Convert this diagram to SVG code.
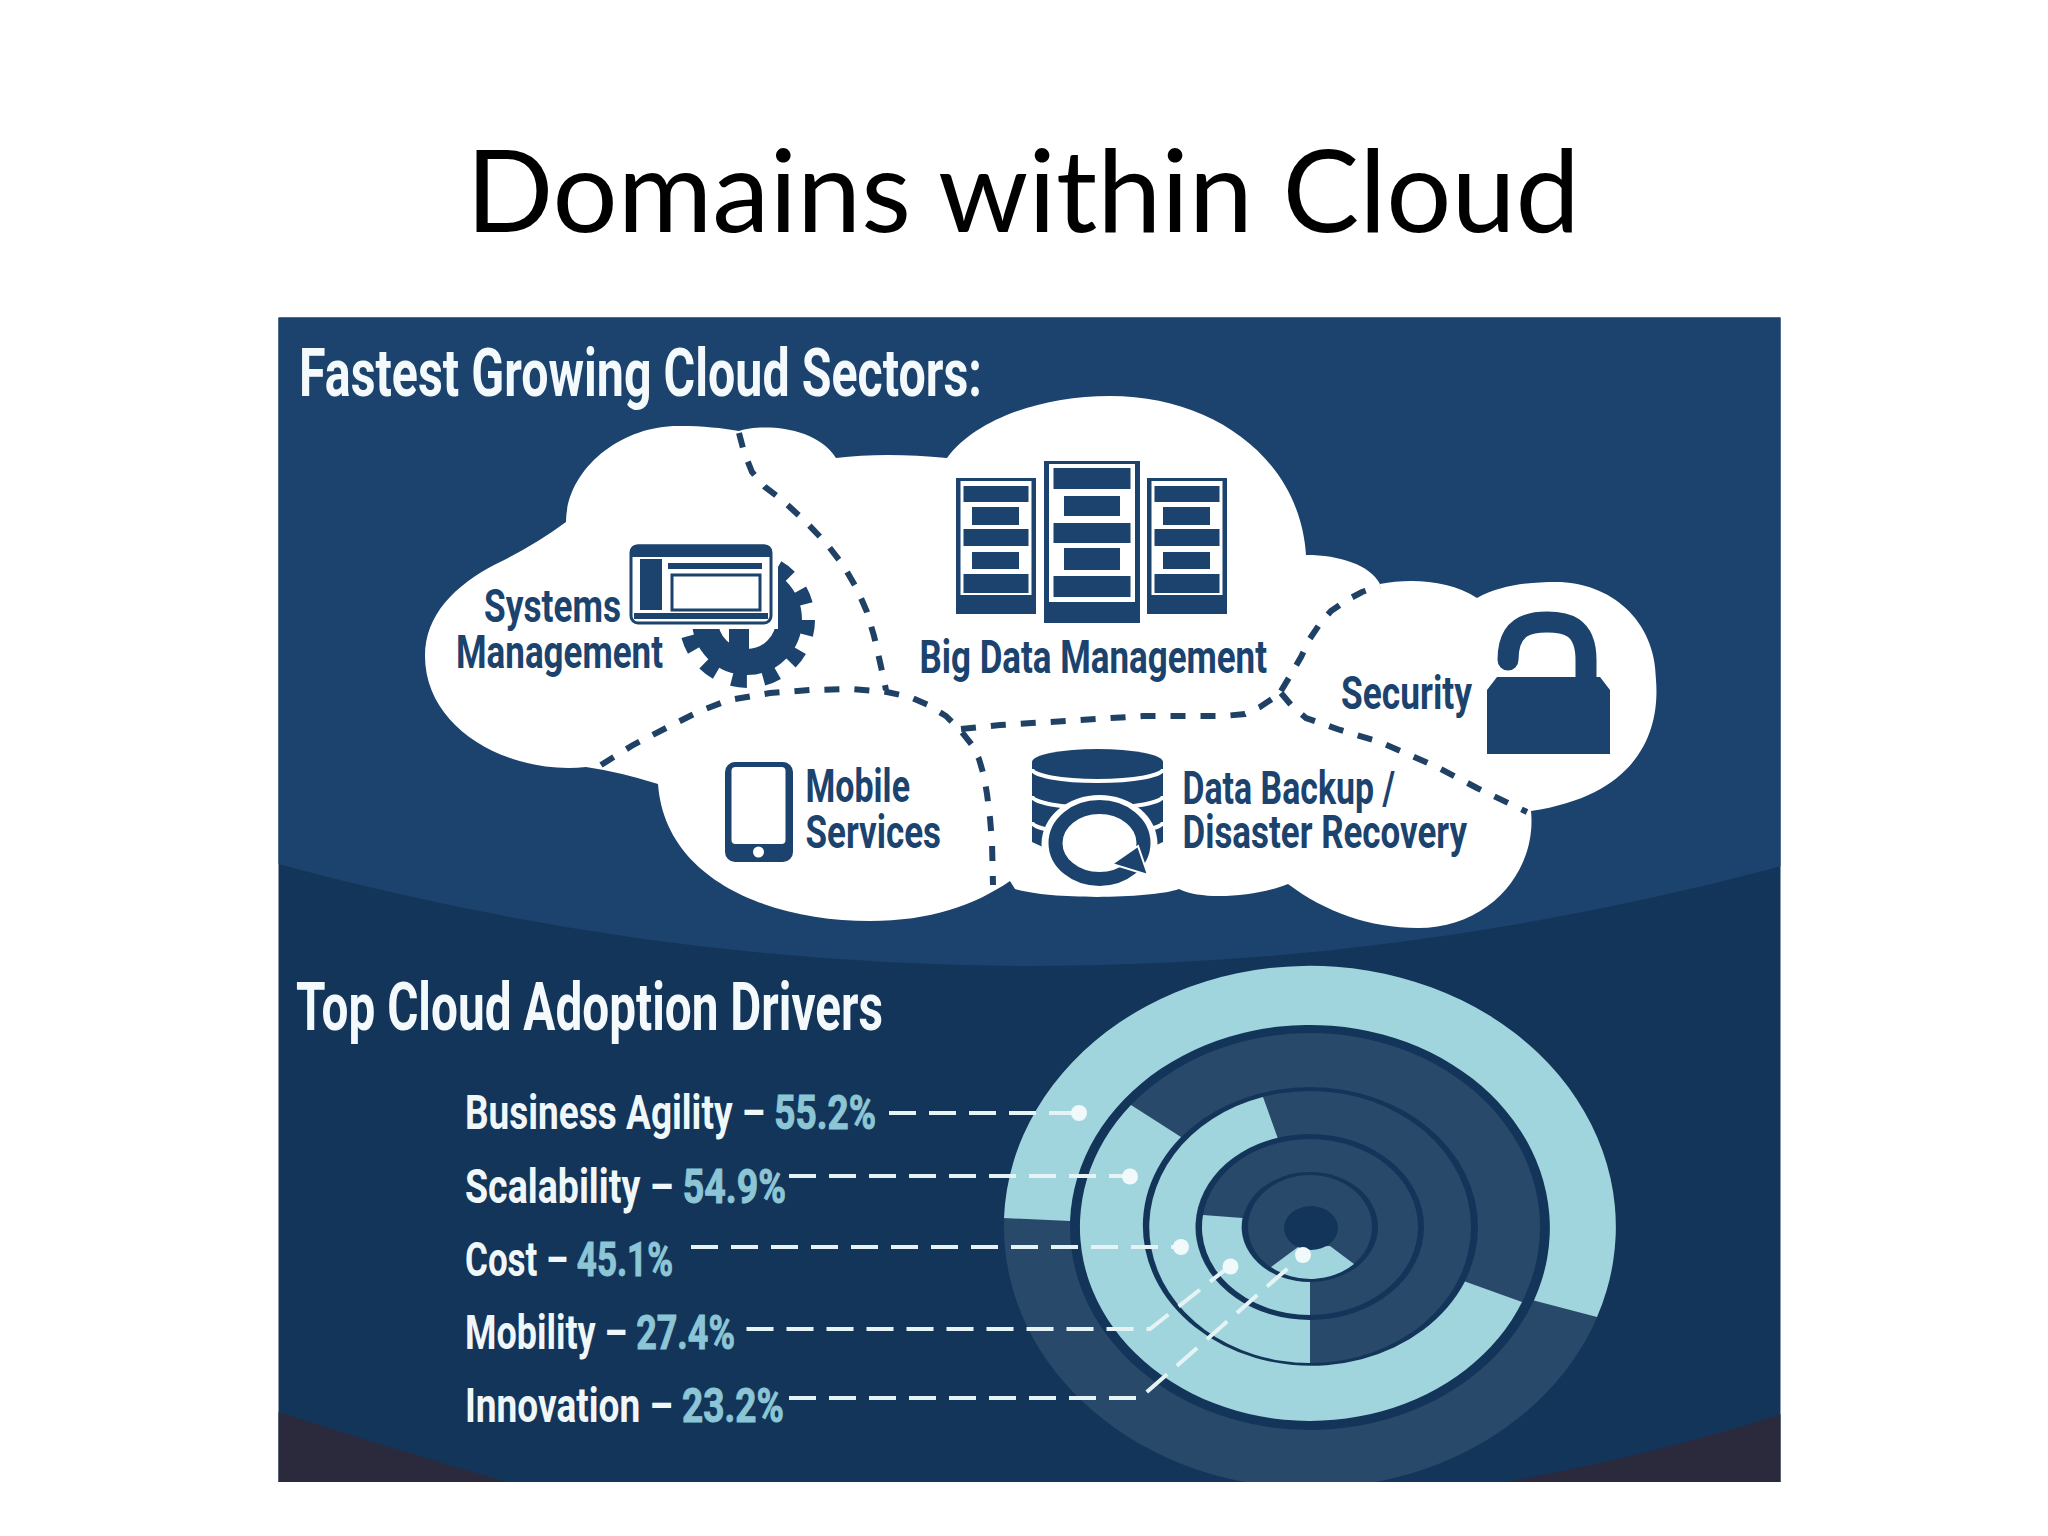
<svg xmlns="http://www.w3.org/2000/svg" width="2048" height="1536" viewBox="0 0 2048 1536">
<style>
.n{fill:#1b436d}
.c{font-family:"Roboto","Liberation Sans",sans-serif;font-weight:700;fill:#1b436d;font-size:47px}
.h{font-family:"Roboto","Liberation Sans",sans-serif;font-weight:700;fill:#f4f9fb;font-size:66px}
.d{font-family:"Roboto","Liberation Sans",sans-serif;font-weight:700;fill:#f0f7f9;font-size:48px}
.v{fill:#8cc6d6;stroke:#8cc6d6;stroke-width:1}
.cut{fill:none;stroke:#1f4165;stroke-width:6;stroke-dasharray:15 15}
.lead{fill:none;stroke:#e6f3f5;stroke-width:4;stroke-dasharray:27 13}
.dot{fill:#f2f9fa}
.l{fill:#a1d5dd}
.w{fill:#fff}
</style>
<defs><clipPath id="im"><rect x="278.5" y="317.5" width="1502" height="1164.5"/></clipPath></defs>
<rect width="2048" height="1536" fill="#fff"/>
<text x="466" y="232" font-family="Lato,'Open Sans',sans-serif" font-size="114" fill="#000" textLength="1114" lengthAdjust="spacingAndGlyphs">Domains within Cloud</text>
<g id="panel" clip-path="url(#im)">
<rect x="278" y="317" width="1504" height="1166" fill="#14355a"/>
<path d="M278,317H1782V866Q1030,1067 278,864Z" fill="#1b436d"/>
<path d="M278,1412Q390,1448 510,1483H278Z" fill="#2a2a3c"/>
<path d="M1782,1414Q1650,1456 1500,1483H1782Z" fill="#2a2a3c"/>
</g>
<g id="cloud">
<path class="w" d="M566,522C566,470 620,425 680,426C703,426 722,428 739,431C760,424 815,425 836,458Q885,452 947,458C975,420 1040,396 1110,396C1215,396 1300,460 1306,555C1340,555 1370,565 1380,584C1410,578 1450,580 1477,598C1500,585 1530,582 1556,582C1610,582 1656,620 1656,680C1660,730 1640,795 1531,811C1537,870 1490,928 1418,928C1370,928 1325,912 1288,884C1262,895 1205,902 1179,889C1150,899 1050,900 1015,889L1010,881C975,905 930,921 870,921C770,921 665,880 658,784Q620,772 586,767C510,775 425,730 425,656C425,615 455,585 496,564Q535,545 566,522Z"/>
</g>
<g id="cloud-dividers">
<path class="cut" d="M739,433L744,452L752,472L765,487L782,500L804,520L826,543L843,565L857,589L867,612L874,636L880,662L886,690"/>
<path class="cut" d="M601,765L633,745L668,727L700,711L729,700L770,693L811,690L850,689L887,692L910,697L928,705L946,716L961,731L972,745L979,759L984,776L987,794L990,818L992,842L993,885"/>
<path class="cut" d="M961,729L1000,725L1066,721L1143,716L1224,716L1245,714L1260,707L1272,699L1281,691"/>
<path class="cut" d="M1281,691L1290,676L1301,657L1309,640L1319,625L1331,611L1347,600L1362,592L1380,586"/>
<path class="cut" d="M1281,693L1292,706L1306,718L1340,730L1377,741L1410,755L1439,768L1477,788L1527,812"/>
</g>
<g id="node-big-data">
<rect class="n" x="956" y="478" width="80" height="136"/><rect class="w" x="960.5" y="481" width="71" height="114"/>
<rect class="n" x="963.5" y="486" width="65" height="16"/><rect class="n" x="972" y="507" width="47" height="18"/><rect class="n" x="963.5" y="529" width="65" height="17"/><rect class="n" x="972" y="552" width="47" height="17"/><rect class="n" x="963.5" y="574" width="65" height="19"/>
<rect class="n" x="1044" y="461" width="96" height="162"/><rect class="w" x="1049" y="464" width="86" height="138"/>
<rect class="n" x="1053.5" y="468" width="77" height="21"/><rect class="n" x="1064" y="496" width="56" height="20"/><rect class="n" x="1053.5" y="523" width="77" height="20"/><rect class="n" x="1064" y="548" width="56" height="22"/><rect class="n" x="1053.5" y="576" width="77" height="21"/>
<rect class="n" x="1147" y="478" width="80" height="136"/><rect class="w" x="1151.5" y="481" width="71" height="114"/>
<rect class="n" x="1154.5" y="486" width="65" height="16"/><rect class="n" x="1163" y="507" width="47" height="18"/><rect class="n" x="1154.5" y="529" width="65" height="17"/><rect class="n" x="1163" y="552" width="47" height="17"/><rect class="n" x="1154.5" y="574" width="65" height="19"/>
<text class="c" x="919.5" y="673" textLength="347.5" lengthAdjust="spacingAndGlyphs">Big Data Management</text>
</g>
<g id="node-systems">
<circle cx="747" cy="620" r="42" fill="none" stroke="#1b436d" stroke-width="26"/>
<circle cx="747" cy="620" r="60" fill="none" stroke="#1b436d" stroke-width="16" stroke-dasharray="15 16.4"/>
<rect class="n" x="729" y="620" width="20" height="45"/>
<rect class="w" x="624" y="539" width="154" height="90"/>
<rect class="w" x="631" y="546" width="140" height="77" rx="7" stroke="#1b436d" stroke-width="3"/>
<path class="n" d="M638,544.5H764Q772,544.5 772,552V557H630V552Q630,544.5 638,544.5Z"/>
<rect class="n" x="640" y="559" width="22" height="51"/>
<rect class="n" x="668" y="563" width="94" height="6"/>
<rect x="672" y="575" width="88" height="35" fill="#fff" stroke="#1b436d" stroke-width="3"/>
<rect class="n" x="634" y="613" width="134" height="6"/>
<text class="c" x="484" y="622" textLength="137" lengthAdjust="spacingAndGlyphs">Systems</text>
<text class="c" x="456" y="668" textLength="207" lengthAdjust="spacingAndGlyphs">Management</text>
</g>
<g id="node-security">
<path d="M1508,660C1508,625 1530,622 1547,622C1565,622 1586,625 1586,660V685" fill="none" stroke="#1b436d" stroke-width="21" stroke-linecap="round"/>
<path class="n" d="M1497,677H1600L1610,690V754H1487V690Z"/>
<text class="c" x="1341" y="709" textLength="131" lengthAdjust="spacingAndGlyphs">Security</text>
</g>
<g id="node-mobile">
<rect class="n" x="725" y="762" width="68" height="100" rx="10"/>
<rect class="w" x="731.5" y="767" width="54" height="77" rx="4"/>
<circle class="w" cx="758.5" cy="852" r="5.5"/>
<text class="c" x="805.5" y="802" textLength="104.5" lengthAdjust="spacingAndGlyphs">Mobile</text>
<text class="c" x="805.5" y="848" textLength="135.5" lengthAdjust="spacingAndGlyphs">Services</text>
</g>
<g id="node-backup">
<path class="n" d="M1032,762A65.500 13 0 0 1 1163,762V842L1150,848H1045L1032,842Z"/>
<path d="M1032,769A65.500 12 0 0 0 1163,769M1032,796A65.500 12 0 0 0 1163,796M1032,822A65.500 12 0 0 0 1163,822" fill="none" stroke="#fff" stroke-width="4"/>
<ellipse class="w" cx="1099.500" cy="844" rx="58" ry="49"/>
<ellipse cx="1099.500" cy="843" rx="44" ry="36" fill="#fff" stroke="#1b436d" stroke-width="14"/>
<path class="n" d="M1148,875L1112,864L1138,846Z" stroke="#fff" stroke-width="2"/>
<text class="c" x="1182.500" y="804" textLength="212.500" lengthAdjust="spacingAndGlyphs">Data Backup /</text>
<text class="c" x="1182.500" y="848" textLength="284.500" lengthAdjust="spacingAndGlyphs">Disaster Recovery</text>
</g>
<g id="heading-sectors"><text class="h" x="299" y="396" textLength="683" lengthAdjust="spacingAndGlyphs">Fastest Growing Cloud Sectors:</text></g>
<g id="heading-drivers"><text class="h" x="296" y="1030" textLength="587" lengthAdjust="spacingAndGlyphs">Top Cloud Adoption Drivers</text></g>
<g id="chart" clip-path="url(#im)">
<ellipse cx="1310" cy="1227" rx="306" ry="261" fill="#29496a"/>
<ellipse cx="1310" cy="1227" rx="240" ry="203" fill="#14355a"/>
<ellipse cx="1310" cy="1227" rx="230" ry="194" fill="#29496a"/>
<ellipse cx="1310" cy="1227" rx="168" ry="140" fill="#14355a"/>
<ellipse cx="1310" cy="1227" rx="161" ry="136" fill="#29496a"/>
<ellipse cx="1310" cy="1227" rx="114" ry="93" fill="#14355a"/>
<ellipse cx="1310" cy="1227" rx="108" ry="88" fill="#29496a"/>
<ellipse cx="1310" cy="1227" rx="68" ry="55" fill="#14355a"/>
<ellipse cx="1310" cy="1227" rx="62" ry="52" fill="#29496a"/>
<path class="l" d="M1597,1317A306 261 0 1 0 1004,1218L1070,1221A240 203 0 1 1 1534,1300.500Z"/>
<path class="l" d="M1131,1105A230 194 0 1 0 1522,1302L1465,1281.500A168 140 0 1 1 1181,1137Z"/>
<path class="l" d="M1263,1097A161 136 0 0 0 1310,1363L1310,1320A114 93 0 0 1 1277.600,1137.700Z"/>
<path class="l" d="M1203,1215A108 88 0 0 0 1310,1315L1310,1282A68 55 0 0 1 1242.500,1218Z"/>
<path class="l" d="M1298,1247L1271,1267A62 52 0 0 0 1354,1264L1330,1246Z"/>
<ellipse cx="1311" cy="1228" rx="27" ry="22" fill="#14355a"/>
</g>
<g id="driver-labels">
<text class="d" transform="translate(465,1129) scale(.68,1)" textLength="604.400" lengthAdjust="spacingAndGlyphs">Business Agility – <tspan class="v">55.2%</tspan></text>
<text class="d" transform="translate(465,1203) scale(.68,1)" textLength="472" lengthAdjust="spacingAndGlyphs">Scalability – <tspan class="v">54.9%</tspan></text>
<text class="d" transform="translate(465,1276) scale(.68,1)" textLength="305.900" lengthAdjust="spacingAndGlyphs">Cost – <tspan class="v">45.1%</tspan></text>
<text class="d" transform="translate(465,1349) scale(.68,1)" textLength="397" lengthAdjust="spacingAndGlyphs">Mobility – <tspan class="v">27.4%</tspan></text>
<text class="d" transform="translate(465,1422) scale(.68,1)" textLength="469" lengthAdjust="spacingAndGlyphs">Innovation – <tspan class="v">23.2%</tspan></text>
</g>
<g id="connectors">
<path class="lead" d="M889,1113H1079"/><circle class="dot" cx="1079" cy="1113" r="8"/>
<path class="lead" d="M789,1176H1130"/><circle class="dot" cx="1130" cy="1176.500" r="8"/>
<path class="lead" d="M691,1247H1181"/><circle class="dot" cx="1181" cy="1247" r="8"/>
<path class="lead" d="M746.500,1329H1150L1230,1266"/><circle class="dot" cx="1230.500" cy="1266.500" r="8"/>
<path class="lead" d="M789,1398H1140L1303,1255"/><circle class="dot" cx="1303" cy="1255" r="8"/>
</g>
</svg>
